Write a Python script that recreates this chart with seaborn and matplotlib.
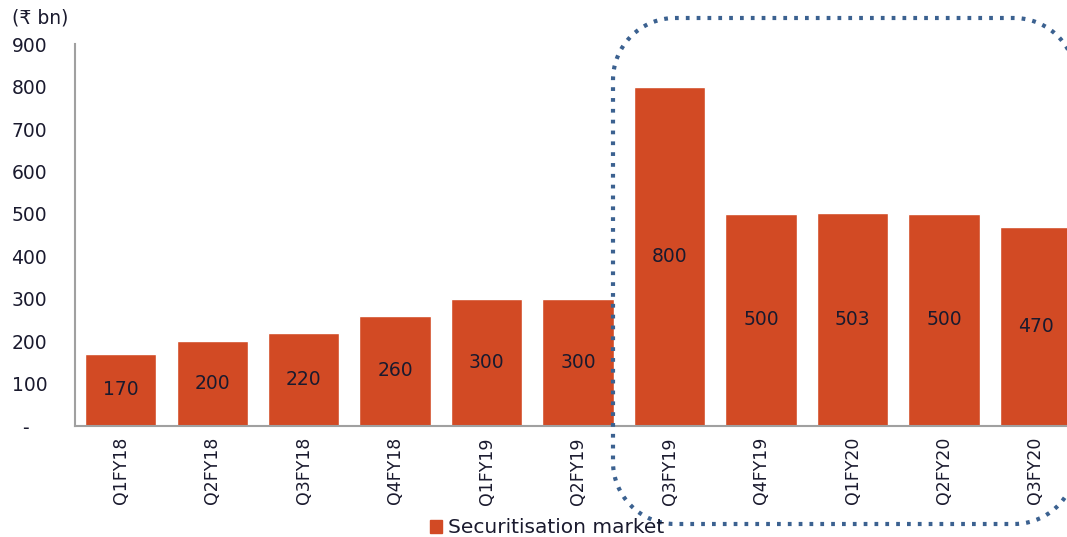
import matplotlib
matplotlib.use("Agg")
import numpy as np
import matplotlib.pyplot as plt
import seaborn as sns
from matplotlib.lines import Line2D
from matplotlib.transforms import IdentityTransform

# data
quarters = ['Q1FY18', 'Q2FY18', 'Q3FY18', 'Q4FY18', 'Q1FY19', 'Q2FY19',
            'Q3FY19', 'Q4FY19', 'Q1FY20', 'Q2FY20', 'Q3FY20']
volumes = [170, 200, 220, 260, 300, 300, 800, 500, 503, 500, 470]
y_ticks = [0, 100, 200, 300, 400, 500, 600, 700, 800, 900]
y_labels = ['-   ', '100', '200', '300', '400', '500', '600', '700', '800', '900']

bar_color = '#D24A24'
text_color = '#1a1a2e'

sns.set_style('white')
plt.rcParams['font.family'] = ['DejaVu Sans']

fig = plt.figure(figsize=(10.67, 5.37), dpi=100)
ax = fig.add_axes([0.0703, 0.2067, 0.943, 0.711])

sns.barplot(x=quarters, y=volumes, color=bar_color, saturation=1, width=0.78, ax=ax)
ax.bar_label(ax.containers[0], label_type='center', fontsize=13.5, color=text_color)

ax.set_ylim(0, 900)
ax.set_xlim(-0.5, len(quarters) - 0.5)
ax.set_yticks(y_ticks)
ax.set_yticklabels(y_labels, fontsize=13.5, color=text_color)
ax.set_xticks(range(len(quarters)))
ax.set_xticklabels(quarters, rotation=90, fontsize=12.5, color=text_color)
ax.set_xticks([i - 0.5 for i in range(len(quarters) + 1)], minor=True)
ax.tick_params(axis='x', which='major', length=0, pad=8)
ax.tick_params(axis='x', which='minor', length=7, width=1.2, color='#a0a0a0', direction='out')
ax.tick_params(axis='y', length=6, width=1.2, color='#a0a0a0', pad=14, direction='out')
ax.set_xlabel('')
ax.set_ylabel('')

for side in ['top', 'right']:
    ax.spines[side].set_visible(False)
for side in ['left', 'bottom']:
    ax.spines[side].set_color('#a0a0a0')
    ax.spines[side].set_linewidth(1.5)

fig.text(0.011, 0.966, '(₹ bn)', fontsize=13.5, color=text_color, va='center', ha='left')

# dotted rounded box (pixel coords) around Q3FY19 onwards
x0, x1, y0, y1, r = 613, 1076, 13, 519, 62
corners = [(x1 - r, y1 - r, 0), (x0 + r, y1 - r, 90), (x0 + r, y0 + r, 180), (x1 - r, y0 + r, 270)]
bx, by = [], []
for cx, cy, a0 in corners:
    t = np.radians(np.linspace(a0, a0 + 90, 30))
    bx.extend(cx + r * np.cos(t))
    by.extend(cy + r * np.sin(t))
bx.append(bx[0])
by.append(by[0])
box = Line2D(bx, by, transform=IdentityTransform(), color='#3b6190',
             linewidth=3, linestyle=(0, (0.9, 1.7)))
fig.add_artist(box)

handle = plt.Rectangle((0, 0), 1, 1, color=bar_color)
fig.legend([handle], ['Securitisation market'], loc='center',
           bbox_to_anchor=(0.513, 0.017), frameon=False, fontsize=14.5,
           handlelength=0.6, handleheight=0.6, handletextpad=0.3,
           labelcolor=text_color)

fig.savefig('out.png', dpi=100)
